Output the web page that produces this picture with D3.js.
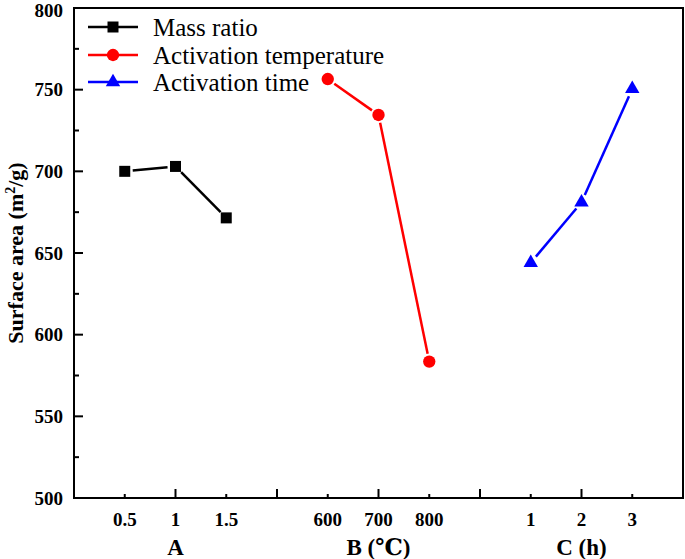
<!DOCTYPE html>
<html>
<head>
<meta charset="utf-8">
<script src="https://cdn.jsdelivr.net/npm/d3@7"></script>
<style>
  body { margin: 0; background: #fff; }
</style>
</head>
<body>
<div id="chart"></div>
<script>
// factor levels, placed along one shared x index
var massLevels = ["0.5", "1", "1.5"];
var massPos = [1, 2, 3];
var massArea = [700, 703, 671.5];

var tempLevels = ["600", "700", "800"];
var tempPos = [5, 6, 7];
var tempArea = [756.5, 734.5, 583.5];

var timeLevels = ["1", "2", "3"];
var timePos = [9, 10, 11];
var timeArea = [644, 681, 750.5];

var groupNames = ["A", "B (\u2103)", "C (h)"];
var groupPos = [2, 6, 10];
var seriesNames = ["Mass ratio", "Activation temperature", "Activation time"];
var seriesColors = ["#000000", "#ff0000", "#0000ff"];
var yTicks = [500, 550, 600, 650, 700, 750, 800];

var W = 685, H = 559;
var margin = {top: 8, right: 2, bottom: 61, left: 74};
var width = W - margin.left - margin.right;
var height = H - margin.top - margin.bottom;

var svg = d3.select("#chart").append("svg")
    .attr("width", W)
    .attr("height", H)
    .attr("font-family", "'Liberation Serif', 'DejaVu Serif', serif");

var g = svg.append("g")
    .attr("transform", "translate(" + margin.left + "," + margin.top + ")");

var x = d3.scaleLinear().domain([0, 12]).range([0, width]);
var y = d3.scaleLinear().domain([500, 800]).range([height, 0]);

// frame
g.append("rect")
    .attr("width", width).attr("height", height)
    .attr("fill", "none").attr("stroke", "#000").attr("stroke-width", 2);

// y ticks (inward), major + minor
var yMinor = d3.range(525, 800, 50);
g.selectAll(".ytick").data(yTicks.slice(1, -1)).enter().append("line")
    .attr("x1", 0).attr("x2", 9)
    .attr("y1", function(d) { return y(d); }).attr("y2", function(d) { return y(d); })
    .attr("stroke", "#000").attr("stroke-width", 2);
g.selectAll(".yminor").data(yMinor).enter().append("line")
    .attr("x1", 0).attr("x2", 5)
    .attr("y1", function(d) { return y(d); }).attr("y2", function(d) { return y(d); })
    .attr("stroke", "#000").attr("stroke-width", 2);
// top label nudged down a little so it stays inside the page
g.selectAll(".ylab").data(yTicks).enter().append("text")
    .attr("x", -11).attr("y", function(d) { return y(d) + (d === 800 ? 8.5 : 6.5); })
    .attr("text-anchor", "end")
    .attr("font-size", 19).attr("font-weight", "bold")
    .text(function(d) { return d; });

// x ticks: majors on even index, minors on odd
var xIdx = d3.range(1, 12);
g.selectAll(".xtick").data(xIdx).enter().append("line")
    .attr("x1", function(d) { return x(d); }).attr("x2", function(d) { return x(d); })
    .attr("y1", height).attr("y2", function(d) { return d % 2 === 0 ? height - 9 : height - 4; })
    .attr("stroke", "#000").attr("stroke-width", 2);

var levelPos = massPos.concat(tempPos, timePos);
var levelText = massLevels.concat(tempLevels, timeLevels);
g.selectAll(".xlab").data(levelPos).enter().append("text")
    .attr("x", function(d) { return x(d); })
    .attr("y", height + 28)
    .attr("text-anchor", "middle")
    .attr("font-size", 19).attr("font-weight", "bold")
    .text(function(d, i) { return levelText[i]; });

g.selectAll(".grp").data(groupPos).enter().append("text")
    .attr("x", function(d) { return x(d); })
    .attr("y", height + 57)
    .attr("text-anchor", "middle")
    .attr("font-size", 23).attr("font-weight", "bold")
    .text(function(d, i) { return groupNames[i]; });

svg.append("text")
    .attr("transform", "translate(23," + (margin.top + height / 2) + ") rotate(-90)")
    .attr("text-anchor", "middle")
    .attr("font-size", 22).attr("font-weight", "bold")
    .html("Surface area (m<tspan dy='-8' font-size='14'>2</tspan><tspan dy='8'>/g)</tspan>");

// series
var series = [
  {pos: massPos, vals: massArea, shape: d3.symbolSquare, size: 121},
  {pos: tempPos, vals: tempArea, shape: d3.symbolCircle, size: 120},
  {pos: timePos, vals: timeArea, shape: d3.symbolTriangle, size: 90}
];

var gap = 8;
series.forEach(function(s, k) {
  var pts = s.pos.map(function(p, i) { return [x(p), y(s.vals[i])]; });
  for (var i = 0; i < pts.length - 1; i++) {
    var a = pts[i], b = pts[i + 1];
    var dx = b[0] - a[0], dy = b[1] - a[1];
    var len = Math.sqrt(dx * dx + dy * dy);
    var ux = dx / len, uy = dy / len;
    g.append("line")
        .attr("x1", a[0] + ux * gap).attr("y1", a[1] + uy * gap)
        .attr("x2", b[0] - ux * gap).attr("y2", b[1] - uy * gap)
        .attr("stroke", seriesColors[k]).attr("stroke-width", 2.5);
  }
  g.selectAll(".m" + k).data(pts).enter().append("path")
      .attr("transform", function(d) { return "translate(" + d[0] + "," + d[1] + ")"; })
      .attr("d", d3.symbol().type(s.shape).size(s.size))
      .attr("fill", seriesColors[k]);
});

// legend
var legendRows = [27, 55, 82];
var legend = svg.append("g");
seriesNames.forEach(function(name, k) {
  var ly = legendRows[k];
  legend.append("line")
      .attr("x1", 88).attr("x2", 138).attr("y1", ly).attr("y2", ly)
      .attr("stroke", seriesColors[k]).attr("stroke-width", 2.5);
  legend.append("path")
      .attr("transform", "translate(113," + ly + ")")
      .attr("d", d3.symbol().type(series[k].shape).size(series[k].size))
      .attr("fill", seriesColors[k]);
  legend.append("text")
      .attr("x", 153).attr("y", ly + 9)
      .attr("font-size", 25)
      .text(name);
});
</script>
</body>
</html>
